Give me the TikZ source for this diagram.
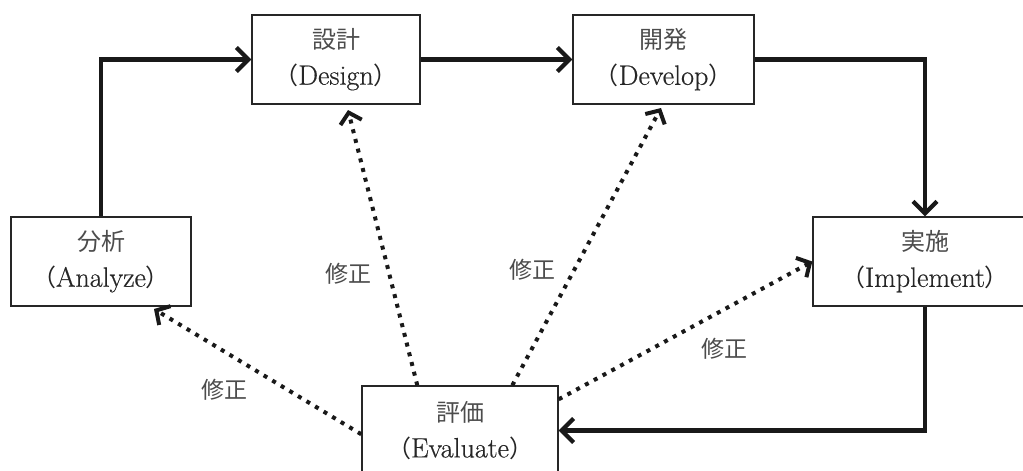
\documentclass[tikz,border=0pt]{standalone}
\usepackage{fontspec}
\newfontfamily\jp{Noto Sans CJK JP}
\newfontfamily\enfont{Latin Modern Roman}[FakeBold=0.5]
\usetikzlibrary{arrows.meta,calc}
\tikzset{
  box/.style={draw=black!85, line width=1.4pt, minimum height=89pt, align=center,
    inner sep=0pt, font=\fontsize{24}{36}\selectfont, text=black!85},
  flow/.style={line width=4.2pt, draw=black!90, -{Straight Barb[length=12pt,width=24pt,line width=4.2pt]}},
  fix/.style={line width=4pt, draw=black!90, dash pattern=on 4pt off 6pt,
    -{Straight Barb[length=10pt,width=22pt,line width=4pt]}},
  lab/.style={font=\jp\fontsize{23}{23}\selectfont, text=black!70, inner sep=0pt}
}
\newcommand{\jl}[1]{{\jp\color{black!70}#1}}
\newcommand{\en}[1]{{\jp （}{\enfont\fontsize{28}{36}\selectfont #1}{\jp ）}}
\begin{document}
\begin{tikzpicture}[x=1pt,y=-1pt]
\useasboundingbox (0,0) rectangle (1023,471);
\clip (0,0) rectangle (1023,471);
\node[box, minimum width=168pt] (de) at (336,59.5) {\jl{設計}\\\en{Design}};
\node[box, minimum width=181pt] (dv) at (663.5,59.5) {\jl{開発}\\\en{Develop}};
\node[box, minimum width=180pt] (an) at (101,261.5) {\jl{分析}\\\en{Analyze}};
\node[box, minimum width=224pt] (im) at (925,261.5) {\jl{実施}\\\en{Implement}};
\node[box, minimum width=196pt] (ev) at (460,430.5) {\jl{評価}\\\en{Evaluate}};
\draw[flow] (an.north) |- (de.west);
\draw[flow] (de.east) -- (dv.west);
\draw[flow] (dv.east) -| (im.north);
\draw[flow] (im.south) |- (ev.east);
\coordinate (tan) at (154,309);
\coordinate (tde) at (348,110);
\coordinate (tdv) at (661,108);
\draw[fix] ($(ev.north west)+(0,49)$) -- (tan);
\draw[fix] ($(ev.north west)+(56,0)$) -- (tde);
\draw[fix] ($(ev.north west)+(151,0)$) -- (tdv);
\draw[fix] ($(ev.north east)+(0,14)$) -- (im.west);
\node[lab] (l1) at (224,390) {修正};
\node[lab] (l2) at (348,274) {修正};
\node[lab] (l3) at (532,270) {修正};
\node[lab] (l4) at (724,349) {修正};
\end{tikzpicture}
\end{document}
